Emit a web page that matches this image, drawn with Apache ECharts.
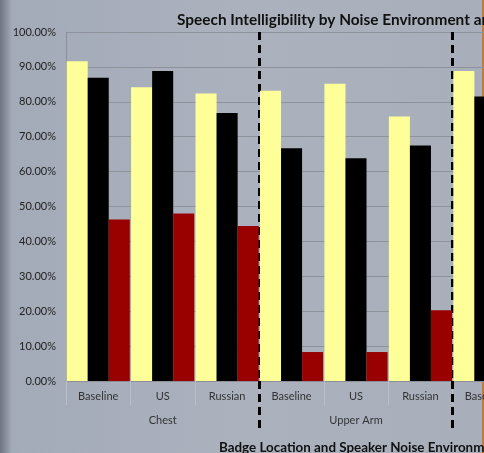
<!DOCTYPE html>
<html><head><meta charset="utf-8">
<script src="https://cdn.jsdelivr.net/npm/echarts@6/dist/echarts.min.js"></script>
<style>html,body{margin:0;padding:0;background:#a9b0bc}#c{width:484px;height:453px}</style>
</head><body><div id="c"></div>
<script>
var categories = ['Baseline','US','Russian','Baseline','US','Russian','Baseline','US','Russian'];
var groups = ['Chest','Upper Arm','Shoulder'];
var seriesA = [91.6, 84.2, 82.4, 83.2, 85.2, 75.8, 88.8, null, null];
var seriesB = [86.9, 88.8, 76.8, 66.7, 63.8, 67.5, 81.5, null, null];
var seriesC = [46.3, 48.0, 44.4, 8.3, 8.3, 20.3, null, null, null];
var yTicks = [0,10,20,30,40,50,60,70,80,90,100];

var FONT = 'Lato';
var chart = echarts.init(document.getElementById('c'));
var skipFirst = function(i){ return i !== 0; };
chart.setOption({
  backgroundColor: {type:'linear',x:0,y:0,x2:1,y2:0,colorStops:[
    {offset:0,color:'#6f7682'},{offset:0.025,color:'#a4abb8'},{offset:0.5,color:'#abb2be'},{offset:1,color:'#a8afbb'}]},
  animation:false,
  textStyle:{fontFamily:FONT},
  title:[
    {text:'Speech Intelligibility by Noise Environment and Badge Location', left:172, top:8,
     textStyle:{fontFamily:FONT,fontWeight:'bold',fontSize:15.4,color:'#111'}},
    {text:'Badge Location and Speaker Noise Environment', left:214, top:436,
     textStyle:{fontFamily:FONT,fontWeight:'bold',fontSize:13.4,color:'#111'}}
  ],
  grid:{left:66, top:32, right:-162, bottom:72, containLabel:false, outerBoundsMode:'none'},
  xAxis:[{
    type:'category', data:categories, position:'bottom',
    axisLine:{show:true,lineStyle:{color:'#8c8f96',width:1}},
    axisTick:{show:true,length:24,lineStyle:{color:'#b9bec8',width:1}},
    axisLabel:{color:'#333',fontSize:11,margin:10,fontFamily:FONT,interval:0},
    splitLine:{show:false}
  },{
    type:'category', data:groups, position:'bottom',
    axisLine:{show:false},
    axisTick:{show:true,length:50,interval:skipFirst,lineStyle:{color:'#000',width:3,type:[8,5]}},
    axisLabel:{color:'#333',fontSize:11,margin:34,fontFamily:FONT,interval:0},
    splitLine:{show:true,interval:skipFirst,lineStyle:{color:'#000',width:3,type:[8,5]}}
  }],
  yAxis:{
    type:'value', min:0, max:100, interval:10,
    axisLine:{show:true,lineStyle:{color:'#8c8f96'}},
    axisTick:{show:false},
    axisLabel:{color:'#222',fontSize:11,margin:10,fontFamily:FONT,
      formatter:function(v){return yTicks.indexOf(v)>=0 ? v.toFixed(2)+'%' : '';}},
    splitLine:{show:true,lineStyle:{color:'#8d929b',width:1}}
  },
  series:[
    {type:'bar',name:'A',data:seriesA,barGap:'0%',barCategoryGap:'2%',itemStyle:{color:'#ffff99'}},
    {type:'bar',name:'B',data:seriesB,barGap:'0%',barCategoryGap:'2%',itemStyle:{color:'#000000'}},
    {type:'bar',name:'C',data:seriesC,barGap:'0%',barCategoryGap:'2%',itemStyle:{color:'#990000'}}
  ],
  graphic:[{type:'rect',right:0,top:0,shape:{width:2,height:453},style:{fill:'#c57a35'}}]
});
</script></body></html>
